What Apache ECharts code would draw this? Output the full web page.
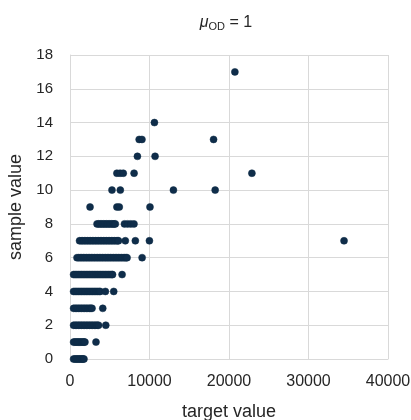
<!DOCTYPE html>
<html>
<head>
<meta charset="utf-8">
<script src="https://cdn.jsdelivr.net/npm/echarts@6/dist/echarts.min.js"></script>
<style>
html,body{margin:0;padding:0;background:#fff;}
#chart{width:411px;height:420px;}
</style>
</head>
<body>
<div id="chart"></div>
<script>
// target values observed for each sample value
const target0 = [450, 620, 780, 930, 1080, 1230, 1380, 1520, 1650, 1760];
const target1 = [450, 600, 760, 900, 1050, 1200, 1350, 1500, 1650, 1780, 1880, 3270];
const target2 = [450, 650, 850, 1050, 1250, 1450, 1650, 1850, 2050, 2250, 2450, 2650, 2850, 3050, 3250, 3420, 3590, 4500];
const target3 = [450, 650, 850, 1050, 1250, 1450, 1650, 1850, 2050, 2250, 2450, 2620, 2770, 4120];
const target4 = [450, 650, 850, 1050, 1250, 1450, 1650, 1850, 2050, 2250, 2450, 2650, 2850, 3050, 3250, 3450, 3650, 3800, 4450, 5500];
const target5 = [450, 650, 850, 1050, 1250, 1450, 1650, 1850, 2050, 2250, 2450, 2650, 2850, 3050, 3250, 3450, 3650, 3850, 4050, 4250, 4450, 4650, 4850, 5050, 5250, 5350, 6550];
const target6 = [880, 1080, 1280, 1480, 1680, 1880, 2080, 2280, 2480, 2680, 2880, 3080, 3280, 3480, 3680, 3880, 4080, 4280, 4480, 4680, 4880, 5080, 5280, 5480, 5680, 5880, 6080, 6280, 6480, 6680, 6880, 7050, 7180, 9070];
const target7 = [1200, 1400, 1600, 1800, 2000, 2200, 2400, 2600, 2800, 3000, 3200, 3400, 3600, 3800, 4000, 4200, 4400, 4600, 4800, 5000, 5200, 5400, 5600, 5800, 6000, 6100, 6960, 8220, 9990, 34470];
const target8 = [3400, 3600, 3800, 4000, 4200, 4400, 4600, 4800, 5000, 5200, 5400, 5550, 5700, 6850, 7250, 7650, 8050];
const target9 = [2520, 5900, 6200, 10060];
const target10 = [5280, 6330, 13010, 18260];
const target11 = [5900, 6300, 6700, 8060, 22880];
const target12 = [8480, 10700];
const target13 = [8700, 9050, 18060];
const target14 = [10620];
const target17 = [20740];

const sampleValues = [0, 1, 2, 3, 4, 5, 6, 7, 8, 9, 10, 11, 12, 13, 14, 17];
const targetLists = [target0, target1, target2, target3, target4, target5, target6, target7, target8, target9, target10, target11, target12, target13, target14, target17];

const xTicks = [0, 10000, 20000, 30000, 40000];
const yTicks = [0, 2, 4, 6, 8, 10, 12, 14, 16, 18];

const points = [];
sampleValues.forEach(function (s, i) {
  targetLists[i].forEach(function (t) { points.push([t, s]); });
});

const font = 'Liberation Sans';
const textColor = '#262626';
const chart = echarts.init(document.getElementById('chart'), null, {renderer: 'canvas'});
chart.setOption({
  animation: false,
  backgroundColor: '#ffffff',
  title: {
    text: '{mu|μ}{sub|OD}{n| = 1}',
    left: 221,
    textAlign: 'center',
    top: 9,
    textStyle: {
      fontWeight: 'normal',
      rich: {
        mu: {fontFamily: font, fontSize: 16, fontStyle: 'italic', fontWeight: 'normal', color: textColor},
        sub: {fontFamily: font, fontSize: 11, fontWeight: 'normal', color: textColor, verticalAlign: 'bottom', padding: [7, 0, 0, 0]},
        n: {fontFamily: font, fontSize: 16, fontWeight: 'normal', color: textColor}
      }
    }
  },
  grid: {left: 70, right: 23, top: 55, bottom: 61, containLabel: false, outerBoundsMode: 'none'},
  xAxis: {
    type: 'value',
    min: xTicks[0],
    max: xTicks[xTicks.length - 1],
    interval: 10000,
    name: 'target value',
    nameLocation: 'middle',
    nameGap: 44,
    nameTextStyle: {fontFamily: font, fontSize: 18, color: textColor},
    axisLine: {show: true, lineStyle: {color: '#d9d9d9', width: 1}},
    axisTick: {show: false},
    axisLabel: {fontFamily: font, fontSize: 16, color: textColor, margin: 15, formatter: function (v) { return String(v); }},
    splitLine: {show: true, lineStyle: {color: '#d9d9d9', width: 1}}
  },
  yAxis: {
    type: 'value',
    min: yTicks[0],
    max: yTicks[yTicks.length - 1],
    interval: 2,
    name: 'sample value',
    nameLocation: 'middle',
    nameGap: 39,
    nameTextStyle: {fontFamily: font, fontSize: 18, color: textColor},
    axisLine: {show: true, lineStyle: {color: '#d9d9d9', width: 1}},
    axisTick: {show: false},
    axisLabel: {fontFamily: font, fontSize: 15, color: textColor, margin: 17, formatter: function (v) { return String(v); }},
    splitLine: {show: true, lineStyle: {color: '#d9d9d9', width: 1}}
  },
  series: [{
    type: 'scatter',
    data: points,
    symbol: 'circle',
    symbolSize: 7,
    itemStyle: {color: '#0f2d4a', borderColor: '#0d2a45', borderWidth: 0.5, opacity: 1}
  }]
});
</script>
</body>
</html>
